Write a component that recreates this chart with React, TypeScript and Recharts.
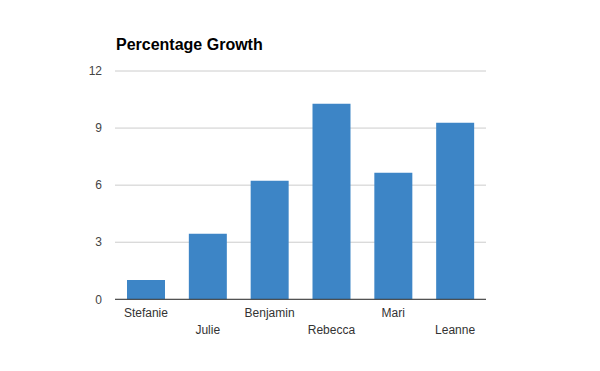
import React from "react";
import { BarChart, Bar, XAxis, YAxis, CartesianGrid } from "recharts";

const names = ["Stefanie", "Julie", "Benjamin", "Rebecca", "Mari", "Leanne"];
const growth = [1.02, 3.44, 6.23, 10.28, 6.65, 9.28];
const yTicks = [0, 3, 6, 9, 12];

const data = names.map((name, i) => ({ name, growth: growth[i] }));

const StaggerTick = (props: any) => {
  const { x, y, payload, index } = props;
  const dy = index % 2 === 0 ? 10 : 26.5;
  return (
    <text
      x={x}
      y={y + dy}
      textAnchor="middle"
      fill="#333"
      fontSize={12}
      fontFamily="Arial, 'Liberation Sans', sans-serif"
    >
      {payload.value}
    </text>
  );
};

export default function App() {
  return (
    <div style={{ position: "absolute", left: 0, top: 0, width: 600, height: 371, background: "#fff" }}>
      <div
        style={{
          position: "absolute",
          left: 116,
          top: 36.5,
          fontFamily: "Arial, 'Liberation Sans', sans-serif",
          fontWeight: "bold",
          fontSize: 16,
          lineHeight: "16px",
          color: "#000",
          whiteSpace: "nowrap",
        }}
      >
        Percentage Growth
      </div>
      <BarChart
        width={600}
        height={371}
        data={data}
        margin={{ top: 71, right: 114, bottom: 0, left: 0 }}
        barSize={38}
      >
        <CartesianGrid vertical={false} stroke="#cccccc" />
        <XAxis
          dataKey="name"
          tickLine={false}
          axisLine={{ stroke: "#333333" }}
          interval={0}
          tick={<StaggerTick />}
          height={71.7}
        />
        <YAxis
          domain={[0, 12]}
          ticks={yTicks}
          width={115}
          tickLine={false}
          axisLine={false}
          tickMargin={7}
          tick={{ fill: "#444", fontSize: 12, fontFamily: "Arial, 'Liberation Sans', sans-serif" }}
        />
        <Bar dataKey="growth" fill="#3d85c6" isAnimationActive={false} />
      </BarChart>
    </div>
  );
}
